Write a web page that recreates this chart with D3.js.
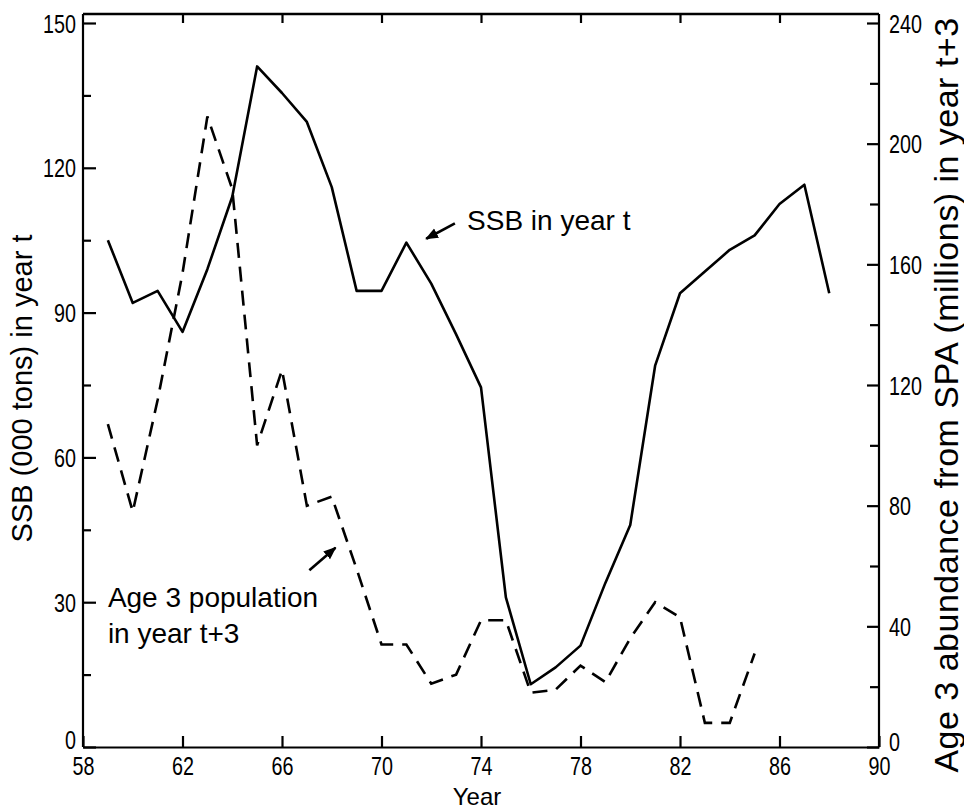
<!DOCTYPE html>
<html>
<head>
<meta charset="utf-8">
<script src="https://cdn.jsdelivr.net/npm/d3@7"></script>
<style>
  body { margin: 0; background: #fff; }
  svg text { fill: #000; }
</style>
</head>
<body>
<script>
// SSB (000 tons) in year t, left axis
const ssbYears = [59, 60, 61, 62, 63, 64, 65, 66, 67, 68, 69, 70, 71, 72, 73, 74,
  75, 76, 77, 78, 79, 80, 81, 82, 83, 84, 85, 86, 87, 88];
const ssbValues = [105, 92, 94.5, 86, 99, 114, 141, 135.5, 129.5, 116, 94.5, 94.5,
  104.5, 96, 85.5, 74.5, 31, 13, 16.5, 21, 34, 46, 79, 94, 98.5, 103, 106, 112.5, 116.5, 94];

// Age 3 abundance from SPA (millions) in year t+3, right axis
const ageYears = [59, 60, 61, 62, 63, 64, 65, 66, 67, 68, 69, 70, 71, 72, 73, 74,
  75, 76, 77, 78, 79, 80, 81, 82, 83, 84, 85];
const ageValues = [107, 78, 115, 157, 209, 185, 100, 125, 80, 83, 59, 34, 34, 21, 24,
  42, 42, 18, 19, 27, 21.5, 36, 48, 43, 8, 8, 31];

const xTicks = [58, 62, 66, 70, 74, 78, 82, 86, 90];
const leftTicks = [0, 30, 60, 90, 120, 150];
const leftMinor = [15, 45, 75, 105, 135];
const rightTicks = [0, 40, 80, 120, 160, 200, 240];
const rightMinor = [20, 60, 100, 140, 180, 220];

const width = 964;
const height = 810;
const textFont = "'Liberation Sans', Arial, Helvetica, sans-serif";
const squeeze = 0.79; // tick digits are set in a narrow face

const x = d3.scaleLinear().domain([58, 90]).range([83, 879]);
const yL = d3.scaleLinear().domain([0, 150]).range([747, 23]);
const yR = d3.scaleLinear().domain([0, 240]).range([747, 23]);
const frameTop = 14;

const svg = d3.select("body")
  .append("svg")
  .attr("width", width)
  .attr("height", height);

// frame top line
svg.append("line")
  .attr("x1", x(58)).attr("x2", x(90))
  .attr("y1", frameTop).attr("y2", frameTop)
  .style("stroke", "#000").style("stroke-width", 2.5);

// bottom axis, ticks pointing up
const gx = svg.append("g")
  .attr("transform", `translate(0,${yL(0)})`)
  .call(d3.axisBottom(x).tickValues(xTicks).tickSizeInner(-11).tickSizeOuter(0).tickPadding(10));

// top ticks pointing down
svg.append("g")
  .attr("transform", `translate(0,${frameTop})`)
  .call(d3.axisTop(x).tickValues(xTicks.slice(1, -1)).tickSizeInner(-9).tickSizeOuter(0).tickFormat(""))
  .select(".domain").remove();

// left axis, ticks pointing inward
const gl = svg.append("g")
  .attr("transform", `translate(${x(58)},0)`)
  .call(d3.axisLeft(yL).tickValues(leftTicks).tickSizeInner(-13).tickSizeOuter(0));
svg.append("g")
  .attr("transform", `translate(${x(58)},0)`)
  .call(d3.axisLeft(yL).tickValues(leftMinor).tickSizeInner(-8).tickSizeOuter(0).tickFormat(""))
  .select(".domain").remove();

// right axis, ticks pointing inward
const gr = svg.append("g")
  .attr("transform", `translate(${x(90)},0)`)
  .call(d3.axisRight(yR).tickValues(rightTicks).tickSizeInner(-12).tickSizeOuter(0));
svg.append("g")
  .attr("transform", `translate(${x(90)},0)`)
  .call(d3.axisRight(yR).tickValues(rightMinor).tickSizeInner(-9).tickSizeOuter(0).tickFormat(""))
  .select(".domain").remove();

// extend the side axes up to the frame top
gl.select(".domain").attr("d", `M0,${frameTop}V${yL(0)}`);
gr.select(".domain").attr("d", `M0,${frameTop}V${yR(0)}`);

svg.selectAll(".domain, .tick line")
  .style("stroke", "#000")
  .style("stroke-width", 2.2);
svg.selectAll(".tick text")
  .style("font-family", textFont)
  .style("font-size", "25px")
  .style("fill", "#000")
  .attr("transform", `scale(${squeeze},1)`);
gl.selectAll(".tick text").attr("x", -7 / squeeze).attr("dy", "0.36em");
gr.selectAll(".tick text").attr("x", 10 / squeeze).attr("dy", "0.36em");
// the zero labels sit a little above the base line
gl.selectAll(".tick text").filter(d => d === 0).attr("dy", "0.05em");
gr.selectAll(".tick text").filter(d => d === 0).attr("dy", "0.15em");

// lines
const ssbData = ssbYears.map((yr, i) => ({ yr, v: ssbValues[i] }));
const ageData = ageYears.map((yr, i) => ({ yr, v: ageValues[i] }));

svg.append("path")
  .datum(ssbData)
  .attr("d", d3.line().x(d => x(d.yr)).y(d => yL(d.v)))
  .style("fill", "none")
  .style("stroke", "#000")
  .style("stroke-width", 2.6)
  .style("stroke-linejoin", "round");

svg.append("path")
  .datum(ageData)
  .attr("d", d3.line().x(d => x(d.yr)).y(d => yR(d.v)))
  .style("fill", "none")
  .style("stroke", "#000")
  .style("stroke-width", 2.6)
  .style("stroke-dasharray", "15,9");

// arrowhead
svg.append("defs").append("marker")
  .attr("id", "arrow")
  .attr("viewBox", "0 0 10 10")
  .attr("refX", 9).attr("refY", 5)
  .attr("markerWidth", 5).attr("markerHeight", 5)
  .attr("orient", "auto")
  .append("path")
  .attr("d", "M0,1L10,5L0,9Z")
  .style("fill", "#000");

// annotations
svg.append("text")
  .attr("x", x(73.44)).attr("y", yL(107.1))
  .style("font-family", textFont).style("font-size", "28px")
  .text("SSB in year t");
svg.append("line")
  .attr("x1", x(72.95)).attr("y1", yL(108.5))
  .attr("x2", x(71.8)).attr("y2", yL(105.3))
  .style("stroke", "#000").style("stroke-width", 2.6)
  .attr("marker-end", "url(#arrow)");

const ageLabel = svg.append("text")
  .style("font-family", textFont).style("font-size", "28px");
ageLabel.append("tspan").attr("x", x(59)).attr("y", yL(29)).text("Age 3 population");
ageLabel.append("tspan").attr("x", x(59)).attr("y", yL(21.6)).text("in year t+3");
svg.append("line")
  .attr("x1", x(67.1)).attr("y1", yL(36.6))
  .attr("x2", x(68.15)).attr("y2", yL(41.3))
  .style("stroke", "#000").style("stroke-width", 2.6)
  .attr("marker-end", "url(#arrow)");

// axis titles
svg.append("text")
  .attr("x", (x(58) + x(90)) / 2 - 4).attr("y", 805)
  .attr("text-anchor", "middle")
  .style("font-family", textFont).style("font-size", "24px")
  .text("Year");

svg.append("text")
  .attr("transform", `translate(32,${(yL(0) + frameTop) / 2 + 8}) rotate(-90)`)
  .attr("text-anchor", "middle")
  .style("font-family", textFont).style("font-size", "29px")
  .text("SSB (000 tons) in year t");

svg.append("text")
  .attr("transform", `translate(958,395) rotate(-90)`)
  .attr("text-anchor", "middle")
  .style("font-family", textFont).style("font-size", "34px")
  .style("letter-spacing", "0.5px")
  .text("Age 3 abundance from SPA (millions) in year t+3");
</script>
</body>
</html>
